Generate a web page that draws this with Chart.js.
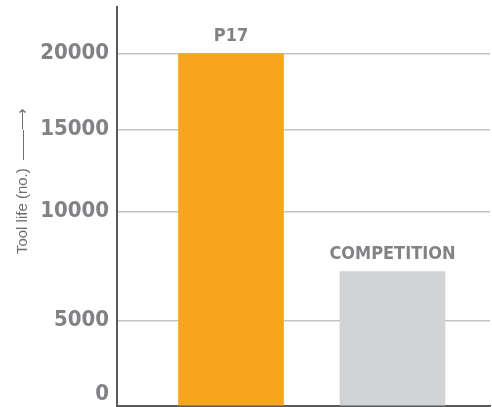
<!DOCTYPE html>
<html>
<head>
<meta charset="utf-8">
<script src="https://cdn.jsdelivr.net/npm/chart.js@4"></script>
<style>
  html, body { margin: 0; padding: 0; background: #fff; }
  #wrap { width: 492px; height: 407px; position: relative; }
</style>
</head>
<body>
<div id="wrap"><canvas id="toolLife"></canvas></div>
<script>
// data
const categories = ['P17', 'COMPETITION'];
const toolLife = [20000, 7250];
const tickValues = [0, 5000, 10000, 15000, 20000];

// the original axis is not evenly spaced: value -> share of axis height
const axisStops = [[0, 0], [5000, 0.214], [10000, 0.487], [15000, 0.693], [20000, 0.8835], [22600, 1]];

const narrow = "'DejaVu Sans Condensed', 'Liberation Sans', sans-serif";

// linear scale with piecewise spacing between the ticks
class StopsScale extends Chart.LinearScale {
    getPixelForValue(value) {
        if (value === null || value === undefined || isNaN(value)) return NaN;
        let f = 0;
        for (let i = 1; i < axisStops.length; i++) {
            const a = axisStops[i - 1], b = axisStops[i];
            if (value <= b[0] || i === axisStops.length - 1) {
                f = a[1] + (value - a[0]) / (b[0] - a[0]) * (b[1] - a[1]);
                break;
            }
        }
        return this.getPixelForDecimal(f);
    }
    getValueForPixel(pixel) {
        const f = this.getDecimalForPixel(pixel);
        for (let i = 1; i < axisStops.length; i++) {
            const a = axisStops[i - 1], b = axisStops[i];
            if (f <= b[1] || i === axisStops.length - 1) {
                return a[0] + (f - a[1]) / (b[1] - a[1]) * (b[0] - a[0]);
            }
        }
        return 0;
    }
    _computeLabelItems(chartArea) {
        const items = super._computeLabelItems(chartArea);
        // keep the "0" label inside the picture
        items.forEach(item => {
            const t = item.options.translation;
            if (t[1] > this.bottom - 12) t[1] = this.bottom - 12;
        });
        return items;
    }
}
StopsScale.id = 'stops';
Chart.register(StopsScale);

// y axis title, written upwards with an arrow
const axisTitle = {
    id: 'axisTitle',
    afterDraw(chart) {
        const ctx = chart.ctx;
        ctx.save();
        ctx.translate(23, 181);
        ctx.rotate(-Math.PI / 2);
        ctx.font = "15px 'Liberation Sans', Arial, sans-serif";
        ctx.fillStyle = '#6d6e71';
        ctx.textAlign = 'center';
        ctx.textBaseline = 'middle';
        ctx.fillText('Tool life (no.)  \u2014\u2014\u27F6', 0, 0);
        ctx.restore();
    }
};

// category names above the bars
const barNames = {
    id: 'barNames',
    afterDatasetsDraw(chart) {
        const ctx = chart.ctx;
        const meta = chart.getDatasetMeta(0);
        ctx.save();
        ctx.font = "bold 18px " + narrow;
        ctx.fillStyle = '#808285';
        ctx.textAlign = 'center';
        ctx.textBaseline = 'bottom';
        meta.data.forEach((bar, i) => {
            ctx.fillText(categories[i], bar.x, bar.y - 8);
        });
        ctx.restore();
    }
};

new Chart(document.getElementById('toolLife'), {
    type: 'bar',
    data: {
        datasets: [{
            data: categories.map((c, i) => ({ x: i, y: toolLife[i] })),
            backgroundColor: ['#f7a51d', '#d1d3d4'],
            borderWidth: 0,
            barThickness: 105
        }]
    },
    options: {
        responsive: true,
        maintainAspectRatio: false,
        animation: false,
        layout: { padding: { left: 0, top: 7, right: 2, bottom: 1 } },
        plugins: {
            legend: { display: false },
            tooltip: { enabled: false }
        },
        scales: {
            x: {
                type: 'linear',
                min: -0.706,
                max: 1.604,
                offset: false,
                grid: { display: false },
                ticks: { display: false },
                border: { display: true, color: '#58595b', width: 2 },
                afterFit(scale) { scale.height = 0; }
            },
            y: {
                type: 'stops',
                min: 0,
                max: 22600,
                afterBuildTicks(scale) {
                    scale.ticks = tickValues.map(v => ({ value: v }));
                },
                ticks: {
                    padding: 8,
                    color: '#808285',
                    font: { family: narrow, size: 22, weight: 'bold' },
                    callback: v => String(v)
                },
                grid: { color: '#c4c4c4', lineWidth: 1.5, drawTicks: false },
                border: { display: true, color: '#58595b', width: 2 },
                afterFit(scale) {
                    scale.width = 117;
                    scale.paddingTop = 0;
                    scale.paddingBottom = 0;
                }
            }
        }
    },
    plugins: [axisTitle, barNames]
});
</script>
</body>
</html>
